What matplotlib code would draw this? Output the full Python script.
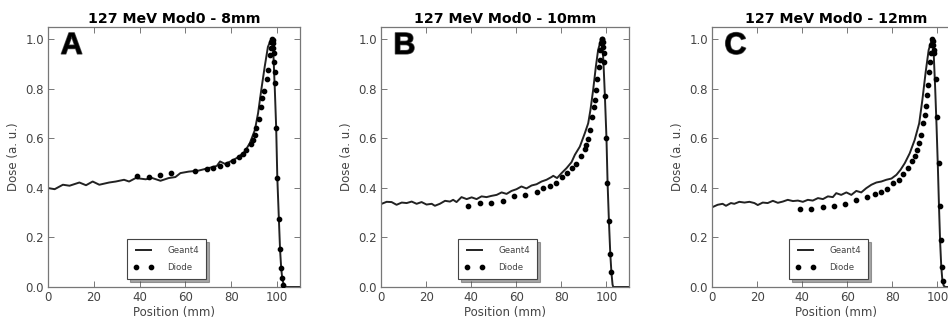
import matplotlib
matplotlib.use("Agg")
import matplotlib.pyplot as plt
import matplotlib.patheffects as pe

titles = ["127 MeV Mod0 - 8mm", "127 MeV Mod0 - 10mm", "127 MeV Mod0 - 12mm"]
letters = ["A", "B", "C"]

# Geant4 simulated depth-dose curves (position mm, dose a.u.)
g4_x_a = [0.4, 2.9, 6.5, 9.4, 13.7, 16.6, 19.5, 22.4, 26.7, 29.6, 33.2, 35.4, 38.3, 42.6, 45.5,
          49.1, 52.7, 55.6, 57.8, 61.4, 65.7, 70.0, 73.7, 75.1, 77.3, 80.1, 83.0, 85.9, 88.1,
          90.3, 91.7, 93.1, 94.6, 96.0, 97.4, 98.3, 99.0, 99.6, 100.1, 100.8, 101.3, 101.8,
          102.3, 103.0, 104.0, 110.0]
g4_y_a = [0.399, 0.395, 0.413, 0.409, 0.422, 0.411, 0.426, 0.413, 0.422, 0.426, 0.433, 0.426,
          0.440, 0.435, 0.440, 0.429, 0.440, 0.444, 0.460, 0.466, 0.470, 0.480, 0.489, 0.507,
          0.497, 0.509, 0.524, 0.547, 0.581, 0.634, 0.702, 0.796, 0.890, 0.970, 1.000, 0.960,
          0.800, 0.644, 0.440, 0.270, 0.150, 0.075, 0.030, 0.008, 0.0, 0.0]

g4_x_b = [0.3, 2.5, 4.7, 6.9, 9.2, 11.4, 13.6, 15.8, 18.0, 20.2, 22.5, 23.9, 26.1, 28.4, 30.6,
          32.0, 33.5, 35.7, 38.0, 40.2, 42.4, 44.6, 46.8, 49.0, 51.3, 53.5, 55.7, 57.9, 60.1,
          62.3, 64.5, 66.8, 69.0, 71.2, 73.4, 75.6, 76.4, 78.1, 80.1, 82.3, 84.5, 86.0, 88.2,
          90.4, 91.9, 92.9, 94.1, 95.3, 96.3, 97.6, 98.3, 98.8, 99.3, 100.0, 100.5, 101.1,
          101.7, 102.2, 102.7, 103.0, 110.0]
g4_y_b = [0.336, 0.344, 0.343, 0.332, 0.341, 0.339, 0.345, 0.336, 0.343, 0.333, 0.336, 0.328,
          0.336, 0.348, 0.345, 0.352, 0.343, 0.363, 0.355, 0.362, 0.355, 0.366, 0.363, 0.368,
          0.372, 0.382, 0.376, 0.388, 0.395, 0.406, 0.398, 0.410, 0.415, 0.426, 0.433, 0.444,
          0.449, 0.440, 0.460, 0.480, 0.504, 0.534, 0.567, 0.621, 0.661, 0.715, 0.796, 0.890,
          0.957, 1.000, 0.970, 0.880, 0.773, 0.603, 0.420, 0.265, 0.134, 0.059, 0.010, 0.0, 0.0]

g4_x_c = [0.3, 2.5, 4.7, 6.2, 8.4, 9.9, 12.1, 14.4, 16.6, 18.8, 20.3, 22.5, 24.7, 27.0, 29.2,
          31.4, 33.6, 35.9, 38.1, 40.3, 42.5, 44.7, 47.0, 49.2, 51.4, 53.6, 55.1, 57.3, 59.6,
          61.8, 64.0, 66.2, 68.4, 70.7, 72.9, 75.1, 77.3, 79.6, 81.8, 83.6, 85.5, 87.7, 89.9,
          91.9, 93.3, 94.8, 96.1, 97.5, 98.3, 99.0, 99.6, 100.2, 100.7, 101.2, 101.7, 102.2,
          102.8, 103.5, 110.0]
g4_y_c = [0.323, 0.332, 0.336, 0.328, 0.339, 0.336, 0.344, 0.341, 0.344, 0.339, 0.331, 0.341,
          0.339, 0.348, 0.340, 0.345, 0.352, 0.347, 0.349, 0.344, 0.352, 0.349, 0.359, 0.355,
          0.366, 0.363, 0.379, 0.372, 0.382, 0.372, 0.388, 0.382, 0.399, 0.413, 0.422, 0.426,
          0.433, 0.438, 0.453, 0.473, 0.500, 0.540, 0.594, 0.661, 0.755, 0.870, 0.957, 1.000,
          0.950, 0.800, 0.650, 0.480, 0.320, 0.180, 0.080, 0.025, 0.005, 0.0, 0.0]

# Diode measurements
d_x_a = [39.0, 44.0, 49.1, 53.9, 64.0, 69.3, 72.2, 75.1, 78.0, 80.9, 83.3, 85.2, 86.6, 88.5,
         89.5, 90.3, 91.0, 92.0, 92.9, 93.6, 94.3, 95.4, 96.0, 96.7, 97.2, 97.5, 97.8, 98.1,
         98.2, 98.3, 98.5, 98.6, 98.9, 99.0, 99.6, 100.1, 100.8, 101.2, 101.7, 102.1, 102.7]
d_y_a = [0.450, 0.446, 0.454, 0.460, 0.470, 0.476, 0.480, 0.487, 0.497, 0.509, 0.527, 0.536,
         0.554, 0.578, 0.594, 0.614, 0.641, 0.677, 0.728, 0.762, 0.793, 0.840, 0.876, 0.937,
         0.964, 0.990, 1.000, 0.997, 0.984, 0.964, 0.944, 0.910, 0.870, 0.825, 0.644, 0.440,
         0.274, 0.155, 0.077, 0.035, 0.010]

d_x_b = [38.7, 43.9, 48.7, 53.9, 58.9, 63.8, 69.0, 71.9, 74.9, 77.8, 80.5, 82.6, 84.5, 86.7,
         88.9, 90.4, 91.1, 92.0, 92.9, 93.8, 94.4, 95.0, 95.5, 96.0, 96.7, 97.0, 97.3, 97.6,
         97.9, 98.2, 98.4, 98.5, 98.7, 98.8, 99.3, 100.0, 100.4, 101.2, 101.6, 102.2]
d_y_b = [0.328, 0.339, 0.341, 0.347, 0.368, 0.372, 0.383, 0.398, 0.409, 0.422, 0.446, 0.460,
         0.480, 0.497, 0.531, 0.556, 0.574, 0.598, 0.634, 0.685, 0.726, 0.755, 0.796, 0.839,
         0.890, 0.917, 0.957, 0.984, 1.000, 1.000, 0.990, 0.970, 0.944, 0.910, 0.773, 0.603,
         0.420, 0.265, 0.134, 0.059]

d_x_c = [39.1, 44.0, 49.2, 54.1, 59.0, 64.0, 68.7, 72.1, 75.1, 77.6, 80.3, 83.0, 84.7, 87.0,
         88.9, 89.9, 91.0, 91.9, 92.9, 93.6, 94.4, 94.8, 95.4, 95.9, 96.3, 96.7, 97.0, 97.3,
         97.8, 98.1, 98.2, 98.4, 98.5, 99.3, 99.9, 100.6, 101.0, 101.5, 101.9, 102.5]
d_y_c = [0.315, 0.317, 0.325, 0.328, 0.335, 0.352, 0.363, 0.376, 0.384, 0.395, 0.419, 0.433,
         0.456, 0.480, 0.507, 0.530, 0.554, 0.583, 0.614, 0.664, 0.695, 0.731, 0.776, 0.816,
         0.870, 0.910, 0.944, 0.977, 1.000, 0.995, 0.977, 0.957, 0.944, 0.839, 0.688, 0.500,
         0.328, 0.188, 0.079, 0.023]

g4_x = [g4_x_a, g4_x_b, g4_x_c]
g4_y = [g4_y_a, g4_y_b, g4_y_c]
d_x = [d_x_a, d_x_b, d_x_c]
d_y = [d_y_a, d_y_b, d_y_c]

xticks = [0, 20, 40, 60, 80, 100]
yticks = [0.0, 0.2, 0.4, 0.6, 0.8, 1.0]

plt.rcParams['font.family'] = ['DejaVu Sans']
W, H = 948, 320
fig = plt.figure(figsize=(W / 100, H / 100), dpi=100)

boxes = [(48, 252), (381, 248), (712, 248)]
top_px, bot_px = 27, 287
label_col = '#444444'
spine_col = '#777777'

for i in range(3):
    l, w = boxes[i]
    ax = fig.add_axes([l / W, 1 - bot_px / H, w / W, (bot_px - top_px) / H])
    ax.plot(g4_x[i], g4_y[i], color='#222222', lw=1.4, label='Geant4', zorder=2)
    ax.plot(d_x[i], d_y[i], 'o', color='black', ms=3.1, label='Diode', zorder=3)
    ax.set_xlim(0, 110)
    ax.set_ylim(0, 1.05)
    ax.set_xticks(xticks)
    ax.set_yticks(yticks)
    ax.set_yticklabels([f"{v:.1f}" for v in yticks])
    ax.tick_params(direction='in', length=4, width=0.7, top=True, right=True,
                   labelsize=8.5, labelcolor=label_col, color=spine_col, pad=3)
    for s in ax.spines.values():
        s.set_color(spine_col)
        s.set_linewidth(0.9)
    ax.set_xlabel('Position (mm)', fontsize=8.5, color=label_col, labelpad=1)
    ax.set_ylabel('Dose (a. u.)', fontsize=8.5, color=label_col, labelpad=4)
    ax.set_title(titles[i], fontsize=10.2, fontweight='bold', pad=3)
    ax.text(0.05, 0.985, letters[i], transform=ax.transAxes, fontsize=22,
            fontweight='bold', family='Liberation Sans', va='top', ha='left',
            color='black',
            path_effects=[pe.withStroke(linewidth=1.0, foreground='#555555')])
    leg = ax.legend(loc='lower center', bbox_to_anchor=(0.47, 0.03), fontsize=6.2,
                    numpoints=2, frameon=True, shadow=True, fancybox=False,
                    handlelength=2.3, borderpad=0.8, labelspacing=1.0,
                    handletextpad=1.6, borderaxespad=0)
    leg.get_frame().set_edgecolor('#444444')
    leg.get_frame().set_linewidth(0.8)
    for t in leg.get_texts():
        t.set_color(label_col)

fig.savefig('out.png', dpi=100, facecolor='white')
